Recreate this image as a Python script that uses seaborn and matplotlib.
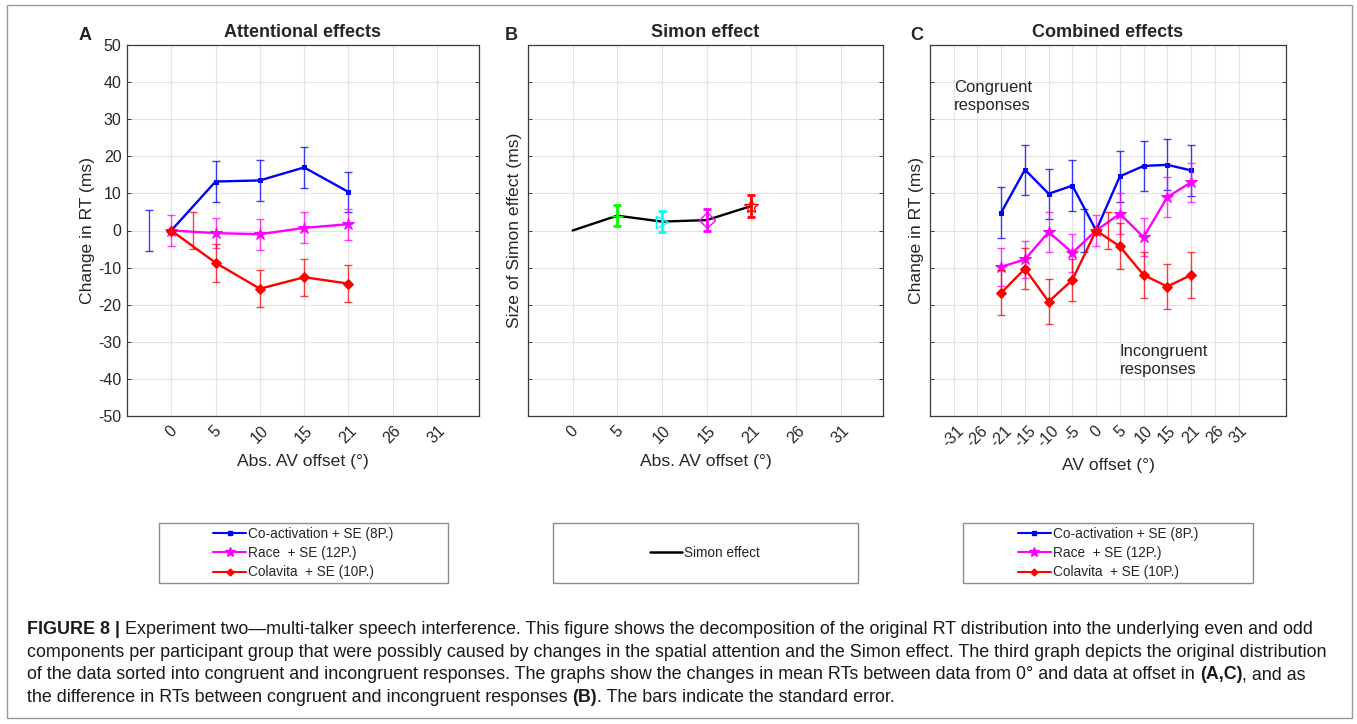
import numpy as np
import pandas as pd
import matplotlib
matplotlib.use('Agg')
import matplotlib.pyplot as plt
from matplotlib.lines import Line2D
from matplotlib.patches import Rectangle
import seaborn as sns

# ---- data ----
# panels A and B: absolute AV offset (deg)
abs_ticks = ['0', '5', '10', '15', '21', '26', '31']
abs_offsets = ['0', '5', '10', '15', '21']
coact_abs = [0, 13.2, 13.5, 17.0, 10.4]
coact_abs_se = [5.6, 5.5, 5.6, 5.6, 5.5]
race_abs = [0, -0.7, -1.0, 0.7, 1.7]
race_abs_se = [4.2, 4.1, 4.2, 4.2, 4.2]
colav_abs = [0, -8.7, -15.7, -12.6, -14.3]
colav_abs_se = [4.9, 5.1, 5.0, 5.0, 5.0]

simon = [0, 4.0, 2.4, 2.8, 6.6]
simon_se = [np.nan, 2.9, 2.9, 2.9, 3.0]

# panel C: signed AV offset (deg)
c_ticks = ['-31', '-26', '-21', '-15', '-10', '-5', '0', '5', '10', '15', '21', '26', '31']
c_offsets = ['-21', '-15', '-10', '-5', '0', '5', '10', '15', '21']
coact_c = [4.85, 16.4, 9.9, 12.1, 0, 14.6, 17.4, 17.7, 16.2]
coact_c_se = [6.8, 6.7, 6.8, 6.9, 5.7, 6.8, 6.8, 6.9, 6.9]
race_c = [-9.8, -7.8, -0.4, -6.0, 0, 4.5, -1.8, 9.0, 13.0]
race_c_se = [5.2, 5.1, 5.4, 5.1, 4.3, 5.5, 5.1, 5.3, 5.2]
colav_c = [-16.8, -10.3, -19.2, -13.3, 0, -4.3, -12.0, -15.1, -12.0]
colav_c_se = [6.1, 5.5, 6.0, 5.6, 5.0, 6.2, 6.1, 6.1, 6.1]

labels = ['Co-activation + SE (8P.)', 'Race  + SE (12P.)', 'Colavita  + SE (10P.)']

caption = [
    [('FIGURE 8 |', 'bold'),
     (' Experiment two\u2014multi-talker speech interference. This figure shows the decomposition '
      'of the original RT distribution into the underlying even and odd', 'normal')],
    [('components per participant group that were possibly caused by changes in the spatial '
      'attention and the Simon effect. The third graph depicts the original distribution', 'normal')],
    [('of the data sorted into congruent and incongruent responses. The graphs show the changes in '
      'mean RTs between data from 0\u00b0 and data at offset in ', 'normal'), ('(A,C)', 'bold'),
     (', and as', 'normal')],
    [('the difference in RTs between congruent and incongruent responses ', 'normal'),
     ('(B)', 'bold'), ('. The bars indicate the standard error.', 'normal')],
]

sns.set_theme(style='whitegrid')
plt.rcParams['font.family'] = ['Liberation Sans', 'DejaVu Sans']
plt.rcParams['axes.unicode_minus'] = False

W, H = 1357, 724
TXT = '#262626'


def fx(px):
    return px / W


def fy(py):
    return 1 - py / H


def style_axes(ax, ticks, xlim, show_ylabels):
    ax.set_facecolor('white')
    ax.set_xlim(*xlim)
    ax.set_ylim(-50, 50)
    ax.set_xticks(range(len(ticks)))
    ax.set_xticklabels(ticks, rotation=45, ha='center')
    ax.set_yticks(range(-50, 51, 10))
    if not show_ylabels:
        ax.set_yticklabels([])
    ax.grid(True, color='#e3e3e3', lw=0.8)
    for s in ax.spines.values():
        s.set_color('#3a3a3a')
        s.set_linewidth(0.9)
    ax.tick_params(axis='y', direction='in', length=3, width=0.7, left=True, right=True,
                   labelsize=11.5, colors='#3a3a3a', labelcolor=TXT, pad=4)
    ax.tick_params(axis='x', length=0, labelsize=11.5, labelcolor=TXT, pad=5)


def draw_series(ax, ticks, offsets, vals, se, color, marker, ms, zero_shift):
    pos = np.array([ticks.index(o) for o in offsets], float)
    df = pd.DataFrame({'pos': pos, 'val': vals})
    sns.lineplot(data=df, x='pos', y='val', ax=ax, color=color, marker=marker,
                 markersize=ms, markeredgecolor=color, lw=1.7, sort=False, legend=False)
    bar_pos = pos + np.where(np.array(offsets) == '0', zero_shift, 0.0)
    ax.errorbar(bar_pos, vals, yerr=se, fmt='none', ecolor=color,
                elinewidth=1.0, capsize=3, capthick=1.0, alpha=0.75)


fig = plt.figure(figsize=(W / 100, H / 100), dpi=100)
fig.patch.set_facecolor('white')

axA = fig.add_axes([fx(127), fy(416), fx(479) - fx(127), fy(45) - fy(416)])
axB = fig.add_axes([fx(528), fy(416), fx(883) - fx(528), fy(45) - fy(416)])
axC = fig.add_axes([fx(930), fy(416), fx(1286) - fx(930), fy(45) - fy(416)])

# ---- A ----
draw_series(axA, abs_ticks, abs_offsets, coact_abs, coact_abs_se, 'blue', 's', 3.5, -0.5)
draw_series(axA, abs_ticks, abs_offsets, race_abs, race_abs_se, 'magenta', '*', 9, 0.0)
draw_series(axA, abs_ticks, abs_offsets, colav_abs, colav_abs_se, 'red', 'D', 5.5, 0.5)
style_axes(axA, abs_ticks, (-1, 6.95), True)
axA.set_ylabel('Change in RT (ms)', fontsize=12.6, labelpad=2, color=TXT)
axA.set_xlabel('Abs. AV offset (°)', fontsize=12.6, labelpad=6, color=TXT)
axA.set_title('Attentional effects', fontsize=13, fontweight='bold', pad=6)

# ---- B ----
simon_pos = [abs_ticks.index(o) for o in abs_offsets]
sns.lineplot(x=simon_pos, y=simon, ax=axB, color='black', lw=1.7, sort=False)
simon_style = [None, ('#00ff00', '+', 9), ('cyan', '>', 8), ('magenta', 'D', 8), ('red', '*', 10)]
for p, v, e, st in zip(simon_pos, simon, simon_se, simon_style):
    if st is None:
        continue
    c, m, ms = st
    axB.errorbar([p], [v], yerr=[e], fmt='none', ecolor=c, elinewidth=2.0,
                 capsize=3, capthick=2.0)
    axB.plot([p], [v], marker=m, markersize=ms, color=c, mfc='none', mew=1.0, ls='none')
style_axes(axB, abs_ticks, (-1, 6.95), False)
axB.set_ylabel('Size of Simon effect (ms)', fontsize=12.6, labelpad=0, color=TXT)
axB.set_xlabel('Abs. AV offset (°)', fontsize=12.6, labelpad=6, color=TXT)
axB.set_title('Simon effect', fontsize=13, fontweight='bold', pad=6)

# ---- C ----
draw_series(axC, c_ticks, c_offsets, coact_c, coact_c_se, 'blue', 's', 3.5, -0.5)
draw_series(axC, c_ticks, c_offsets, race_c, race_c_se, 'magenta', '*', 9, 0.0)
draw_series(axC, c_ticks, c_offsets, colav_c, colav_c_se, 'red', 'D', 5.5, 0.5)
style_axes(axC, c_ticks, (-1, 14), False)
axC.set_ylabel('Change in RT (ms)', fontsize=12.6, labelpad=0, color=TXT)
axC.set_xlabel('AV offset (°)', fontsize=12.6, labelpad=6, color=TXT)
axC.set_title('Combined effects', fontsize=13, fontweight='bold', pad=6)
axC.text(0, 40.5, 'Congruent\nresponses', fontsize=12, va='top', ha='left',
         linespacing=1.25, color=TXT)
axC.text(7, -30.5, 'Incongruent\nresponses', fontsize=12, va='top', ha='left',
         linespacing=1.25, color=TXT)

# panel letters
for letter, x in (('A', 85), ('B', 511), ('C', 917)):
    fig.text(fx(x), fy(35), letter, fontsize=13, fontweight='bold', ha='center', va='center')

# ---- legends below panels ----
grp_handles = [
    Line2D([], [], color='blue', marker='s', markersize=3, lw=1.5),
    Line2D([], [], color='magenta', marker='*', markersize=7, lw=1.5),
    Line2D([], [], color='red', marker='D', markersize=3.5, lw=1.5),
]
for (x0, x1) in ((159, 448), (963, 1253)):
    fig.add_artist(Rectangle((fx(x0), fy(583)), fx(x1) - fx(x0), fy(523) - fy(583),
                             transform=fig.transFigure, fill=False, ec='#8c8c8c', lw=1.0))
    fig.legend(grp_handles, labels, loc='center', bbox_to_anchor=(fx((x0 + x1) / 2), fy(553)),
               frameon=False, fontsize=9.8, handlelength=2.4, handletextpad=0.15,
               labelspacing=0.4)
fig.add_artist(Rectangle((fx(553), fy(583)), fx(858) - fx(553), fy(523) - fy(583),
                         transform=fig.transFigure, fill=False, ec='#8c8c8c', lw=1.0))
fig.legend([Line2D([], [], color='black', lw=1.8)], ['Simon effect'], loc='center',
           bbox_to_anchor=(fx(705), fy(553)), frameon=False, fontsize=9.8,
           handlelength=2.4, handletextpad=0.15)

# ---- caption: segments laid out one after another ----
cap_size = 12.85
cap_lines = []
for line in caption:
    cap_lines.append([fig.text(0, 0, seg, fontsize=cap_size, fontweight=wt, va='center',
                               ha='left', color='#1a1a1a') for seg, wt in line])
fig.canvas.draw()
renderer = fig.canvas.get_renderer()
for i, objs in enumerate(cap_lines):
    x = fx(27)
    for t in objs:
        t.set_position((x, fy(630 + i * 22.4)))
        x += t.get_window_extent(renderer).width / W

fig.add_artist(Rectangle((fx(7), fy(718)), fx(1352) - fx(7), fy(5) - fy(718),
                         transform=fig.transFigure, fill=False, ec='#9a9a9a', lw=1.0))

fig.savefig('out.png', dpi=100, facecolor='white')
